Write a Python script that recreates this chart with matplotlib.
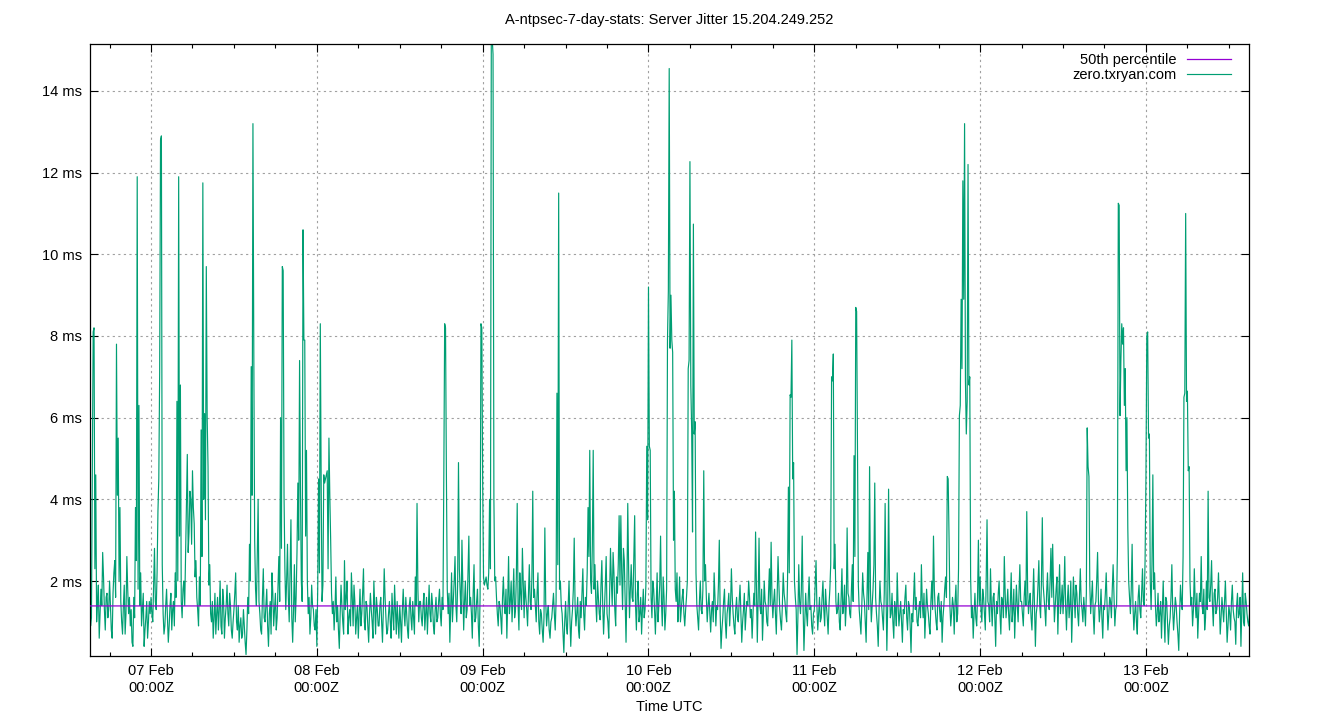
import pandas as pd
import matplotlib
matplotlib.use("Agg")
import matplotlib.pyplot as plt
import matplotlib.dates as mdates
from matplotlib.ticker import FixedLocator, FuncFormatter

plt.rcParams["font.family"] = ["Liberation Sans", "DejaVu Sans"]

# jitter samples (ms) on the quarter hour
feb06 = [1.2, 0.9, 4.8, 8.2, 4.6, 1.5, 0.6, 1.8, 2.7, 1.3, 1.6, 1.1,
         2.0, 0.8, 1.7, 2.5, 7.8, 5.5, 3.8, 1.0, 1.4, 0.7, 2.6, 1.2,
         0.9, 0.5, 1.6, 3.8, 11.9, 6.3, 2.2, 1.3, 0.4, 1.1, 0.6, 1.5]
feb07 = [1.6, 1.0, 2.8, 1.3, 3.7, 7.1, 12.9, 1.2, 0.9, 1.8, 0.5, 1.4,
         0.8, 1.5, 2.2, 6.4, 11.9, 6.8, 1.1, 2.0, 2.6, 5.1, 3.2, 4.0,
         4.7, 3.4, 2.5, 1.3, 2.1, 5.7, 11.75, 6.1, 9.7, 4.8, 2.4, 1.0,
         0.6, 1.7, 1.2, 0.8, 2.0, 0.7, 1.5, 1.1, 1.9, 0.9, 1.4, 0.6,
         1.3, 2.2, 0.8, 0.5, 1.1, 0.7, 0.9, 0.2, 1.6, 2.9, 7.25, 13.2,
         3.0, 1.4, 4.0, 1.2, 0.7, 2.3, 1.0, 1.8, 0.4, 1.5, 2.2, 0.9,
         1.7, 1.1, 2.6, 6.0, 9.7, 4.1, 1.3, 2.9, 1.0, 3.5, 0.5, 2.4,
         1.6, 4.4, 7.4, 2.0, 10.6, 7.9, 5.2, 1.2, 0.7, 1.9, 1.3, 0.8]
feb08 = [0.4, 4.5, 8.3, 1.5, 4.6, 4.5, 4.7, 5.5, 3.0, 1.2, 0.8, 2.1,
         1.4, 0.35, 1.9, 1.0, 2.5, 1.6, 0.7, 1.3, 2.2, 0.9, 1.5, 1.1,
         0.6, 1.8, 1.2, 2.3, 0.8, 1.4, 0.5, 1.7, 1.0, 2.0, 0.7, 1.3,
         0.9, 1.6, 0.5, 2.3, 1.1, 0.8, 1.5, 0.6, 1.2, 1.9, 0.7, 1.0,
         1.4, 0.5, 1.8, 0.9, 1.2, 0.6, 1.6, 0.8, 1.1, 2.1, 3.9, 1.0,
         1.5, 0.9, 1.7, 1.2, 0.7, 1.9, 1.0, 1.4, 0.7, 1.6, 1.1, 1.8,
         0.9, 1.3, 8.3, 4.6, 1.2, 0.5, 2.2, 1.5, 2.6, 1.0, 4.9, 1.7,
         3.0, 0.8, 2.0, 1.3, 3.1, 1.6, 0.6, 2.4, 1.1, 1.8, 0.4, 8.3]
feb09 = [4.4, 1.9, 2.1, 1.8, 4.0, 15.4, 14.9, 2.0, 1.6, 0.9, 1.4, 0.7,
         2.1, 1.2, 0.6, 2.6, 1.5, 1.0, 2.3, 1.3, 3.9, 0.8, 1.7, 2.8,
         1.1, 1.6, 0.9, 2.4, 1.3, 4.2, 1.8, 1.0, 2.2, 0.7, 1.2, 0.5,
         3.3, 0.9, 1.4, 0.6, 1.1, 1.7, 0.8, 6.6, 11.5, 2.0, 1.2, 0.25,
         1.5, 0.7, 2.0, 0.4, 1.3, 3.05, 0.9, 1.6, 0.6, 1.1, 2.3, 0.8,
         1.4, 3.8, 5.2, 1.7, 5.2, 2.4, 1.0, 1.6, 1.05, 2.5, 0.7, 1.9,
         1.2, 0.6, 2.8, 1.4, 2.2, 0.9, 1.7, 3.6, 3.6, 1.3, 2.5, 0.5,
         3.9, 1.1, 2.4, 1.5, 3.6, 0.8, 2.0, 1.2, 0.7, 1.8, 1.3, 5.3]
feb10 = [9.2, 5.2, 1.1, 1.8, 0.7, 2.2, 1.4, 3.1, 0.9, 1.6, 1.2, 7.9,
         14.55, 9.0, 7.6, 4.2, 1.5, 1.0, 2.1, 1.3, 1.8, 0.9, 1.6, 7.2,
         12.27, 5.7, 10.74, 5.9, 1.4, 0.8, 2.0, 1.2, 4.7, 2.4, 1.0, 1.7,
         0.75, 1.5, 2.2, 0.9, 1.3, 3.0, 0.35, 1.1, 1.8, 0.6, 1.4, 0.9,
         2.3, 1.2, 0.7, 1.6, 1.0, 1.9, 0.5, 1.3, 0.8, 1.5, 2.0, 1.1,
         0.6, 1.7, 3.2, 0.5, 3.05, 1.2, 0.55, 2.0, 1.4, 0.9, 2.3, 2.95,
         1.1, 1.8, 0.7, 2.6, 1.3, 0.8, 2.2, 1.5, 1.0, 4.3, 6.56, 7.9,
         4.9, 1.6, 0.2, 2.4, 1.2, 3.1, 0.3, 1.7, 0.9, 2.1, 1.4, 0.7]
feb11 = [1.3, 2.5, 0.8, 1.6, 1.1, 2.0, 0.9, 1.4, 0.7, 1.8, 7.0, 7.56,
         2.9, 1.2, 1.7, 0.8, 2.3, 1.4, 0.9, 3.3, 1.6, 1.1, 2.4, 5.07,
         8.7, 5.1, 1.3, 0.7, 2.2, 1.5, 0.5, 2.7, 4.8, 1.0, 1.8, 4.4,
         1.2, 0.4, 2.0, 1.4, 0.8, 3.9, 0.3, 4.25, 1.1, 1.7, 0.6, 1.3,
         2.2, 0.9, 1.5, 0.5, 1.2, 1.9, 0.8, 1.4, 0.25, 1.0, 2.2, 1.6,
         0.9, 1.5, 2.4, 1.1, 0.6, 1.8, 1.2, 0.7, 2.0, 3.1, 1.3, 0.8,
         1.7, 1.0, 0.5, 1.4, 2.1, 4.56, 3.1, 0.9, 1.6, 0.7, 1.9, 1.2,
         6.05, 8.9, 11.8, 13.2, 5.6, 12.2, 7.0, 1.1, 0.6, 1.7, 0.9, 3.0]
feb12 = [2.1, 1.0, 1.6, 0.8, 3.5, 1.4, 2.3, 0.9, 1.7, 0.4, 1.2, 2.0,
         0.7, 1.5, 2.6, 1.1, 1.8, 0.8, 2.2, 1.3, 0.6, 1.9, 1.0, 2.4,
         1.5, 0.9, 2.0, 3.7, 1.2, 1.7, 0.8, 2.3, 0.4, 1.4, 2.5, 1.1,
         3.55, 1.6, 0.9, 2.2, 1.3, 2.8, 2.9, 1.0, 1.8, 0.7, 2.4, 1.5,
         1.2, 2.6, 0.8, 1.9, 1.4, 0.5, 2.1, 1.1, 1.7, 0.9, 2.3, 1.3,
         1.6, 0.9, 5.75, 4.56, 1.2, 2.0, 0.7, 1.5, 2.7, 1.0, 1.8, 0.6,
         1.3, 2.2, 0.8, 1.6, 1.1, 2.4, 0.9, 1.4, 11.25, 6.05, 8.3, 8.2,
         7.2, 6.0, 2.0, 1.2, 2.9, 0.8, 1.5, 0.7, 1.9, 1.1, 2.3, 1.4]
feb13 = [4.5, 8.1, 5.6, 1.3, 4.6, 2.2, 0.9, 1.7, 1.2, 0.6, 2.0, 0.5,
         1.5, 0.45, 1.1, 2.4, 0.8, 1.6, 1.0, 0.3, 1.9, 1.3, 6.5, 11.0,
         6.65, 4.8, 1.4, 0.9, 2.3, 1.1, 0.6, 1.7, 2.6, 1.2, 0.8, 2.0,
         4.2, 1.5, 2.5, 0.9, 1.8, 1.3, 2.2, 0.7, 1.6, 1.0, 2.0, 0.5,
         1.4, 0.8, 1.9, 1.1, 0.45, 1.7, 1.2, 0.4, 2.2, 0.9, 1.5, 1.0,
         1.2]

# samples half-way between the quarter hours
mid06 = [1.5, 1.1, 8.1, 2.3, 1.0, 1.9, 1.2, 1.4, 2.1, 0.8, 1.7, 1.3,
         1.4, 0.6, 2.2, 1.6, 4.1, 2.0, 1.5, 0.7, 1.9, 1.2, 1.8, 1.6,
         1.3, 0.4, 1.1, 2.5, 1.8, 1.4, 0.9, 1.7, 0.8, 1.5, 1.0, 1.2]
mid07 = [1.2, 1.9, 1.5, 2.2, 4.5, 12.8, 2.4, 0.7, 1.4, 1.1, 0.9, 1.7,
         1.3, 0.9, 1.6, 2.0, 3.1, 1.5, 1.8, 1.4, 3.9, 2.7, 4.2, 2.9,
         3.8, 2.1, 1.6, 0.9, 1.4, 2.6, 4.0, 3.5, 6.0, 1.9, 1.2, 1.5,
         1.1, 0.7, 1.6, 1.3, 0.9, 1.8, 0.6, 1.4, 1.2, 1.7, 0.8, 1.0,
         1.7, 1.0, 1.4, 0.9, 0.6, 1.3, 0.5, 0.8, 1.2, 2.0, 4.1, 7.6,
         1.8, 2.6, 1.5, 0.8, 1.6, 1.1, 1.4, 0.9, 1.2, 0.7, 1.7, 1.3,
         0.8, 1.9, 1.5, 2.8, 9.6, 2.3, 2.0, 1.6, 2.2, 1.1, 1.3, 1.0,
         2.7, 3.0, 4.3, 1.5, 7.9, 3.1, 2.0, 1.6, 1.1, 1.4, 0.9, 1.3]
mid08 = [1.8, 2.2, 4.4, 1.9, 4.4, 4.6, 2.3, 4.1, 1.7, 1.5, 1.3, 1.0,
         0.8, 1.2, 1.4, 0.7, 1.3, 2.0, 1.1, 0.9, 1.6, 1.9, 0.7, 1.4,
         1.2, 0.9, 1.7, 1.0, 1.5, 0.9, 1.2, 1.3, 0.6, 1.4, 1.6, 0.9,
         1.4, 1.0, 1.3, 1.6, 0.7, 1.2, 1.0, 1.7, 0.8, 1.3, 1.5, 0.6,
         1.0, 1.3, 1.2, 1.6, 0.8, 1.4, 1.1, 1.5, 0.7, 1.4, 1.8, 1.5,
         1.1, 1.4, 0.8, 1.6, 1.3, 1.2, 1.7, 0.9, 1.3, 1.0, 1.5, 1.2,
         1.6, 4.5, 8.2, 1.8, 1.7, 1.4, 1.0, 2.0, 1.4, 1.9, 2.3, 1.2,
         1.9, 1.5, 1.1, 2.2, 1.4, 1.2, 1.7, 1.0, 1.5, 0.9, 1.6, 8.2]
mid09 = [2.1, 2.0, 1.9, 2.2, 2.3, 15.3, 4.0, 2.1, 1.2, 1.5, 1.1, 1.6,
         1.4, 1.8, 1.5, 1.2, 2.0, 1.6, 1.1, 2.1, 1.4, 2.2, 1.3, 1.9,
         2.0, 1.3, 1.7, 1.5, 2.1, 1.6, 1.4, 1.7, 1.0, 1.3, 0.8, 1.1,
         1.5, 1.2, 0.8, 1.0, 1.4, 1.2, 1.5, 2.4, 1.8, 1.4, 0.7, 1.0,
         0.9, 1.4, 1.1, 1.0, 1.8, 1.4, 1.2, 0.8, 1.5, 1.7, 1.2, 1.6,
         2.2, 2.6, 2.0, 2.9, 1.8, 1.5, 2.0, 1.2, 1.9, 1.4, 1.3, 2.6,
         1.0, 1.7, 2.0, 2.7, 1.3, 2.1, 2.4, 1.9, 2.2, 2.8, 1.5, 1.8,
         2.3, 1.8, 1.6, 2.6, 1.4, 1.7, 1.0, 1.6, 1.3, 1.1, 1.9, 3.5]
mid10 = [5.3, 1.6, 2.0, 1.3, 1.5, 1.0, 1.9, 1.5, 2.1, 0.8, 1.8, 9.1,
         7.7, 7.9, 3.0, 1.8, 2.2, 1.4, 1.0, 1.6, 1.2, 1.3, 2.0, 7.4,
         6.8, 3.2, 5.6, 2.2, 1.1, 1.5, 1.3, 1.8, 2.0, 1.6, 1.4, 1.2,
         1.3, 1.0, 1.6, 1.4, 1.9, 1.2, 0.8, 1.5, 1.0, 1.2, 1.7, 1.4,
         1.6, 0.9, 1.3, 1.1, 1.5, 1.2, 1.0, 1.7, 1.2, 1.4, 1.6, 1.3,
         1.2, 1.4, 1.9, 1.6, 1.4, 1.8, 1.2, 1.5, 1.0, 1.7, 1.4, 1.6,
         1.5, 1.2, 1.6, 1.9, 1.0, 1.4, 1.7, 1.2, 2.0, 2.2, 6.5, 4.5,
         2.0, 1.3, 1.1, 1.5, 1.8, 1.4, 1.0, 1.2, 1.6, 1.3, 0.9, 1.2]
mid11 = [1.9, 1.4, 1.2, 1.0, 1.6, 1.3, 1.8, 1.1, 1.4, 2.4, 6.9, 2.3,
         1.5, 1.3, 1.0, 1.6, 1.2, 1.9, 1.4, 1.7, 1.2, 1.8, 1.5, 2.6,
         8.6, 1.9, 1.0, 1.4, 1.7, 1.0, 1.6, 1.3, 1.8, 1.4, 2.4, 1.6,
         0.9, 1.3, 1.5, 1.1, 1.7, 1.8, 1.4, 2.0, 1.2, 1.0, 1.5, 0.9,
         1.4, 1.2, 1.0, 1.3, 1.6, 1.1, 1.5, 0.9, 1.2, 1.6, 1.3, 1.0,
         1.3, 1.1, 1.5, 1.7, 1.2, 1.4, 0.9, 1.5, 1.3, 1.8, 1.0, 1.6,
         1.3, 1.5, 1.1, 1.8, 1.6, 4.5, 1.4, 1.2, 1.4, 1.5, 1.0, 2.3,
         6.3, 7.2, 8.9, 6.9, 6.4, 6.8, 2.1, 1.4, 1.2, 1.1, 1.6, 1.4]
mid12 = [1.3, 1.8, 1.2, 2.0, 1.5, 1.0, 1.4, 1.6, 1.1, 1.5, 1.7, 1.2,
         1.6, 1.1, 1.7, 1.4, 1.2, 1.5, 1.0, 1.8, 1.3, 1.4, 1.7, 1.5,
         1.2, 1.6, 1.4, 1.8, 1.5, 1.1, 1.6, 1.3, 1.2, 1.9, 1.4, 2.0,
         1.9, 1.3, 1.7, 1.5, 2.0, 1.6, 1.8, 1.4, 2.1, 1.6, 1.2, 1.9,
         1.7, 1.4, 1.5, 1.1, 2.0, 1.3, 1.6, 1.9, 1.2, 1.6, 1.5, 1.0,
         1.3, 1.7, 4.8, 1.9, 1.6, 1.2, 1.4, 2.0, 1.5, 1.3, 1.1, 1.4,
         1.7, 1.4, 1.2, 1.5, 1.8, 1.6, 1.3, 2.8, 11.2, 7.4, 7.8, 6.3,
         4.7, 3.3, 1.6, 1.8, 1.4, 1.2, 1.0, 1.6, 1.3, 1.7, 1.5, 2.5]
mid13 = [8.0, 5.5, 2.0, 2.4, 1.8, 1.4, 1.2, 1.0, 1.5, 1.3, 1.1, 1.6,
         1.0, 0.9, 1.6, 1.3, 1.2, 1.4, 0.7, 1.2, 1.5, 2.6, 6.6, 6.4,
         4.7, 2.0, 1.6, 1.3, 1.5, 1.7, 1.2, 1.5, 1.4, 1.8, 1.1, 1.3,
         1.6, 1.9, 1.4, 1.7, 1.2, 1.6, 1.4, 1.1, 1.3, 1.5, 1.2, 0.9,
         1.2, 1.5, 1.3, 1.0, 1.4, 1.1, 1.6, 1.3, 1.0, 1.7, 1.2, 0.9]

p50 = 1.39
yticks = [2, 4, 6, 8, 10, 12, 14]

quarter = feb06 + feb07 + feb08 + feb09 + feb10 + feb11 + feb12 + feb13
half = mid06 + mid07 + mid08 + mid09 + mid10 + mid11 + mid12 + mid13
jitter = []
for i, v in enumerate(quarter):
    jitter.append(v)
    if i < len(half):
        jitter.append(half[i])
times = pd.date_range("2025-02-06 15:00", periods=len(jitter), freq="450s")

fig = plt.figure(figsize=(13.4, 7.2), dpi=100)
ax = fig.add_axes([90 / 1340, 64 / 720, 1159 / 1340, 612 / 720])

# median line sits on top of the jitter trace
ax.plot(times, [p50] * len(times), color="#9400d3", lw=0.9, label="50th percentile", zorder=3)
ax.plot(times, jitter, color="#009e73", lw=0.85, label="zero.txryan.com", zorder=2)

ax.set_xlim(pd.Timestamp("2025-02-06 15:10"), pd.Timestamp("2025-02-13 14:55"))
ax.set_ylim(0.164, 15.15)

ax.xaxis.set_major_locator(mdates.DayLocator())
ax.xaxis.set_minor_locator(mdates.HourLocator(byhour=[6, 12, 18]))
ax.xaxis.set_major_formatter(mdates.DateFormatter("%d %b\n%H:%MZ"))
ax.yaxis.set_major_locator(FixedLocator(yticks))
ax.yaxis.set_major_formatter(FuncFormatter(lambda v, p: f"{v:g} ms"))

ax.tick_params(which="both", direction="in", top=True, right=True, labelsize=10.5, colors="black")
ax.tick_params(which="major", length=6, width=0.8, pad=6)
ax.tick_params(which="minor", length=3, width=0.8)
for s in ax.spines.values():
    s.set_linewidth(0.9)

ax.grid(True, which="major", color="#a0a0a0", linestyle=(0, (2, 3)), linewidth=0.8)
ax.set_axisbelow(True)

ax.set_xlabel("Time UTC", fontsize=10.5, labelpad=4)
fig.suptitle("A-ntpsec-7-day-stats: Server Jitter 15.204.249.252", x=669.5 / 1340, y=1 - 13 / 720,
             va="top", fontsize=10.5)

leg = ax.legend(loc="upper right", bbox_to_anchor=(1 - 8 / 1159, 1 + 1 / 612), frameon=False,
                markerfirst=False, fontsize=10.5, handlelength=3.0, borderaxespad=0.3,
                labelspacing=0.05, handletextpad=0.7)

fig.savefig("out.png", dpi=100)
